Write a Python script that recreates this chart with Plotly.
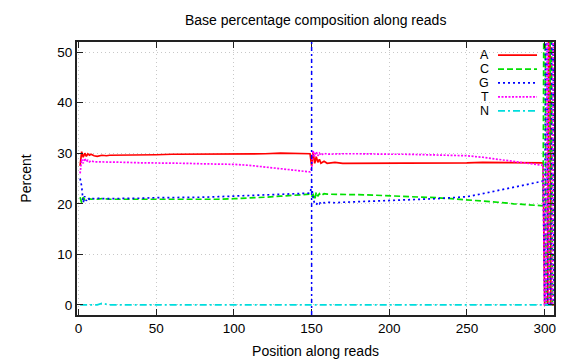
import plotly.graph_objects as go

# Positions along reads (sampled where values change)
positions = [1, 2, 3, 4, 5, 6, 7, 8, 10, 12, 15, 18, 20, 25, 30, 40, 50, 60, 70, 80, 90, 100,
             110, 120, 130, 140, 145, 149,
             150, 151, 152, 153, 154, 155, 156, 158, 160, 165, 170, 180, 190, 200, 210, 220,
             230, 240, 250, 260, 270, 280, 290, 299,
             300, 301, 302, 303, 304, 305, 306]

pct_A = [27.5, 30.3, 29.2, 30.0, 29.4, 29.9, 29.6, 29.8, 29.5, 29.4, 29.6, 29.5, 29.6, 29.6, 29.7,
         29.7, 29.7, 29.8, 29.8, 29.8, 29.8, 29.8, 29.9, 29.9, 30.0, 29.9, 29.9, 29.9,
         27.5, 30.2, 28.0, 29.3, 28.2, 28.8, 28.0, 28.4, 28.0, 28.2, 28.0, 28.0, 28.0, 28.0,
         28.0, 28.0, 28.0, 28.1, 28.1, 28.2, 28.2, 28.2, 28.2, 28.1,
         0, 0, 0, 100, 0, 0, 0]

pct_C = [21.3, 20.2, 21.3, 20.8, 21.0, 20.9, 21.0, 20.9, 21.0, 20.9, 21.0, 20.9, 20.9, 20.9, 20.9,
         20.8, 20.8, 20.8, 20.8, 20.8, 20.9, 21.0, 21.1, 21.3, 21.5, 21.7, 21.8, 21.9,
         21.5, 21.8, 20.8, 22.3, 21.5, 22.0, 21.6, 22.0, 21.9, 21.9, 21.9, 21.8, 21.7, 21.6,
         21.5, 21.3, 21.2, 21.0, 20.8, 20.6, 20.3, 20.0, 19.8, 19.6,
         100, 0, 0, 0, 100, 0, 0]

pct_G = [25.0, 23.5, 20.2, 21.5, 20.6, 21.2, 20.9, 21.1, 21.0, 21.1, 21.0, 21.0, 21.0, 21.0, 21.1,
         21.1, 21.2, 21.2, 21.3, 21.3, 21.4, 21.5, 21.6, 21.7, 21.8, 21.9, 22.0, 22.1,
         23.5, 21.0, 20.0, 19.8, 20.3, 20.0, 20.4, 20.2, 20.3, 20.2, 20.3, 20.4, 20.5, 20.6,
         20.8, 20.9, 21.0, 21.2, 21.4, 22.0, 22.6, 23.3, 23.9, 24.5,
         0, 100, 0, 0, 0, 100, 0]

pct_T = [26.0, 28.8, 28.0, 29.0, 28.3, 28.6, 28.3, 28.5, 28.3, 28.3, 28.3, 28.2, 28.2, 28.2, 28.2,
         28.1, 28.1, 28.0, 28.0, 27.9, 27.9, 27.8, 27.6, 27.3, 27.0, 26.7, 26.5, 26.3,
         27.0, 30.5, 29.3, 30.3, 29.5, 30.0, 29.6, 30.0, 29.8, 29.9, 29.9, 29.9, 29.8, 29.8,
         29.8, 29.7, 29.7, 29.6, 29.5, 29.2, 28.8, 28.4, 28.0, 27.6,
         0, 0, 100, 0, 0, 0, 100]

pct_N = [0, 0, 0, 0, 0, 0, 0, 0, 0, 0, 0.3, 0.2, 0, 0, 0,
         0, 0, 0, 0, 0, 0, 0, 0, 0, 0, 0, 0, 0,
         0, 0, 0, 0, 0, 0, 0, 0, 0, 0, 0, 0, 0, 0,
         0, 0, 0, 0, 0, 0, 0, 0, 0, 0,
         0, 0, 0, 0, 0, 0, 0]

series_names = ["A", "C", "G", "T", "N"]
series_values = [pct_A, pct_C, pct_G, pct_T, pct_N]
series_colors = ["#ff0000", "#00e000", "#0000ff", "#ff00ff", "#00dddd"]
series_dash = ["solid", "6px,3px", "2px,3px", "2px,1.5px", "7px,3px,2px,3px"]

x_ticks = [0, 50, 100, 150, 200, 250, 300]
y_ticks = [0, 10, 20, 30, 40, 50]
boundary_position = 150

FONT = "Liberation Sans, Arial, Helvetica, sans-serif"

fig = go.Figure()
for name, vals, col, dash in zip(series_names, series_values, series_colors, series_dash):
    fig.add_trace(go.Scatter(x=positions, y=vals, mode="lines", name=name,
                             line=dict(color=col, width=1.7, dash=dash),
                             showlegend=False))

# read boundary marker
fig.add_shape(type="line", xref="x", yref="paper", x0=boundary_position, x1=boundary_position,
              y0=0, y1=1, line=dict(color="#0000ff", width=1.5, dash="4px,3px,2px,3px"),
              layer="above")

# legend drawn gnuplot-style (label left of sample)
fig.add_shape(type="rect", xref="paper", yref="paper", x0=0.835, x1=0.975, y0=0.72, y1=0.99,
              fillcolor="white", line=dict(width=0), layer="between")
leg_y = [0.952, 0.901, 0.850, 0.799, 0.748]
for name, col, dash, yy in zip(series_names, series_colors, series_dash, leg_y):
    fig.add_shape(type="line", xref="paper", yref="paper", x0=0.8826, x1=0.9644, y0=yy, y1=yy,
                  line=dict(color=col, width=1.7, dash=dash), layer="above")
    fig.add_annotation(text=name, xref="paper", yref="paper", x=0.866, y=yy,
                       xanchor="right", yanchor="middle", showarrow=False, borderpad=0,
                       font=dict(family=FONT, size=12.5, color="black"))

axis_common = dict(showgrid=True, gridcolor="#c8c8c8", griddash="1px,3px", gridwidth=1,
                   showline=True, linecolor="#222222", linewidth=2, mirror="allticks",
                   ticks="inside", ticklen=6, tickcolor="#222222", tickwidth=1.2,
                   zeroline=False, tickfont=dict(family=FONT, size=13.5, color="black"))

fig.update_xaxes(range=[-1, 306], tickvals=x_ticks,
                 title=dict(text="Position along reads", font=dict(family=FONT, size=14, color="black"),
                            standoff=11),
                 **axis_common)
fig.update_yaxes(range=[-2, 52], tickvals=y_ticks,
                 title=dict(text="Percent", font=dict(family=FONT, size=14, color="black"),
                            standoff=22),
                 **axis_common)

fig.update_layout(
    width=576, height=360,
    margin=dict(l=77, r=22, t=42, b=45, autoexpand=False),
    paper_bgcolor="white", plot_bgcolor="white",
    title=dict(text="Base percentage composition along reads", x=0.548, xanchor="center",
               y=0.944, yanchor="middle", yref="container",
               font=dict(family=FONT, size=14, color="black")),
    showlegend=False,
)

fig.write_html("out.html", config={"displayModeBar": False},
               post_script="document.body.style.margin='0';document.body.style.padding='0';")
